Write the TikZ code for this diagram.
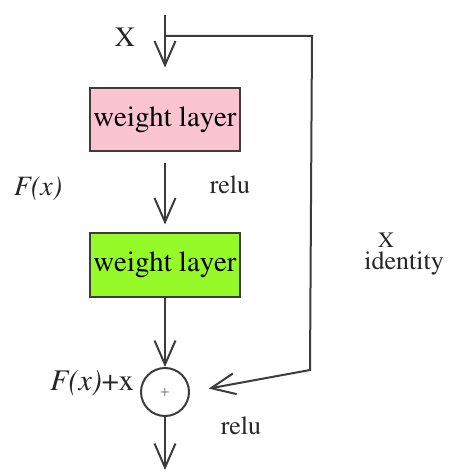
\documentclass[tikz,border=0pt]{standalone}
\usepackage[T1]{fontenc}
\usepackage{mathptmx}
\usepackage{tikz}
\usetikzlibrary{arrows.meta, positioning, calc}
\definecolor{layerpink}{RGB}{250,196,208}
\definecolor{layergreen}{RGB}{150,250,40}
\definecolor{lineGray}{RGB}{60,60,60}

\begin{document}
\begin{tikzpicture}[x=0.5pt, y=-0.5pt,
    layerbox/.style={draw=lineGray, line width=1pt, minimum width=75pt, minimum height=31.5pt, inner sep=0pt, font=\fontsize{14.4}{16}\selectfont},
    flow/.style={draw=lineGray, line width=1pt, -{Straight Barb[length=12pt, width=10.5pt, line width=1pt]}},
    lbl/.style={font=\fontsize{13}{15}\selectfont, text=black!85}]
    \useasboundingbox (0,0) rectangle (460,475);

    % Input and skip corners
    \coordinate (top) at (165,15);
    \coordinate (branch) at (165,36);
    \coordinate (cornerA) at (312,36);
    \coordinate (cornerB) at (310,370);
    \coordinate (out) at (165,470);
    \node[lbl, font=\fontsize{14}{16}\selectfont] (xin) at (125,37) {X};

    % Weight layers
    \node[layerbox, fill=layerpink] (wa) at (165,120) {weight layer};
    \node[layerbox, fill=layergreen] (wb) at (165,265) {weight layer};

    % Addition
    \node[circle, draw=lineGray, line width=1pt, minimum size=24pt, inner sep=0pt, font=\fontsize{8}{9}\selectfont, text=black!50] (add) at (165,392) {+};

    % Main path
    \draw[flow, shorten >=10pt] (top) -- (wa.north);
    \draw[flow, shorten <=5.5pt, shorten >=4pt] (wa.south) -- (wb.north);
    \draw[flow] (wb.south) -- (add.north);
    \draw[flow] (add.south) -- (out);

    % Identity shortcut
    \draw[flow, shorten >=9.5pt] (branch) -- (cornerA) -- (cornerB) -- (add.east);

    % Labels
    \node[lbl] (relua) at (230,185) {relu};
    \node[lbl, font=\fontsize{14}{16}\selectfont\itshape] (fx) at (38,188) {F(x)};
    \node[lbl, font=\fontsize{11}{12}\selectfont, inner sep=1pt] (xid) at (386,240) {X};
    \node[lbl, anchor=west, inner sep=1pt] (ident) at (362,264) {identity};
    \node[lbl, font=\fontsize{15}{17}\selectfont] (sum) at (92,383) {\textit{F(x)}+x};
    \node[lbl] (relub) at (241,426) {relu};
\end{tikzpicture}
\end{document}
